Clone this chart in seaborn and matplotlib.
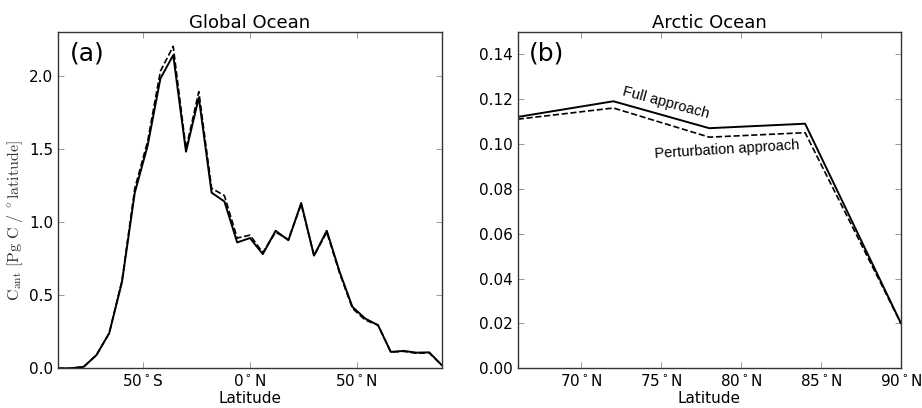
import numpy as np
import pandas as pd
import matplotlib
matplotlib.use('Agg')
import matplotlib.pyplot as plt
import seaborn as sns

# ------------------------------------------------------------
# data
# ------------------------------------------------------------
lat = [-90, -84, -78, -72, -66, -60, -54, -48, -42, -36, -30, -24, -18, -12, -6,
       0, 6, 12, 18, 24, 30, 36, 42, 48, 54, 60, 66, 72, 78, 84, 90]

cant_full = [0.0, 0.0, 0.01, 0.09, 0.24, 0.59, 1.20, 1.52, 1.98, 2.14, 1.48, 1.85,
             1.20, 1.14, 0.86, 0.89, 0.78, 0.94, 0.875, 1.13, 0.77, 0.94, 0.66,
             0.42, 0.34, 0.295, 0.112, 0.119, 0.107, 0.109, 0.02]

cant_pert = [0.0, 0.0, 0.01, 0.09, 0.24, 0.60, 1.23, 1.55, 2.03, 2.20, 1.50, 1.89,
             1.23, 1.18, 0.89, 0.91, 0.79, 0.93, 0.88, 1.12, 0.77, 0.93, 0.65,
             0.41, 0.33, 0.295, 0.111, 0.116, 0.103, 0.105, 0.02]

xticks_a = [-50, 0, 50]
xticklabels_a = [r'50$^\circ$S', r'0$^\circ$N', r'50$^\circ$N']
xticks_b = [70, 75, 80, 85, 90]
xticklabels_b = [r'70$^\circ$N', r'75$^\circ$N', r'80$^\circ$N', r'85$^\circ$N', r'90$^\circ$N']

df = pd.DataFrame({'lat': lat, 'full': cant_full, 'pert': cant_pert})

# ------------------------------------------------------------
# style
# ------------------------------------------------------------
sns.set_style('ticks')
plt.rcParams['font.family'] = ['DejaVu Sans']
plt.rcParams['text.color'] = 'black'
plt.rcParams['axes.labelcolor'] = 'black'
plt.rcParams['xtick.labelcolor'] = 'black'
plt.rcParams['ytick.labelcolor'] = 'black'
plt.rcParams['xtick.direction'] = 'in'
plt.rcParams['ytick.direction'] = 'in'
plt.rcParams['xtick.top'] = True
plt.rcParams['ytick.right'] = True

fig = plt.figure(figsize=(9.22, 4.08), dpi=100)
ax1 = fig.add_axes([58 / 922, 1 - 368.3 / 408, 384 / 922, 336.6 / 408])
ax2 = fig.add_axes([517.5 / 922, 1 - 368.3 / 408, 383.5 / 922, 336.6 / 408])

for ax in (ax1, ax2):
    sns.lineplot(data=df, x='lat', y='full', color='k', lw=1.4, ax=ax)
    sns.lineplot(data=df, x='lat', y='pert', color='k', lw=1.2, ax=ax,
                 linestyle='--')
    ax.set_xlabel('Latitude', fontsize=11, labelpad=1)
    ax.tick_params(labelsize=11, length=4, width=0.6, color='#888888')
    for s in ax.spines.values():
        s.set_linewidth(1.0)
        s.set_color('#333333')

# (a) Global Ocean
ax1.set_xlim(-90, 90)
ax1.set_ylim(0, 2.3)
ax1.set_xticks(xticks_a)
ax1.set_xticklabels(xticklabels_a)
ax1.set_yticks([0.0, 0.5, 1.0, 1.5, 2.0])
ax1.set_yticklabels(['0.0', '0.5', '1.0', '1.5', '2.0'])
ax1.set_title('Global Ocean', fontsize=13, pad=3)
ax1.set_ylabel(r'$\mathrm{C_{ant}}\ \mathrm{[Pg\ C\ /\ ^\circ latitude]}$',
               fontsize=11.5, math_fontfamily='cm', color='#333333')
ax1.yaxis.set_label_coords(-0.086, 0.44)
ax1.text(0.03, 0.97, '(a)', transform=ax1.transAxes, fontsize=18,
         ha='left', va='top')

# (b) Arctic Ocean
ax2.set_xlim(66, 90)
ax2.set_ylim(0, 0.15)
ax2.set_xticks(xticks_b)
ax2.set_xticklabels(xticklabels_b)
ax2.set_yticks([0.0, 0.02, 0.04, 0.06, 0.08, 0.10, 0.12, 0.14])
ax2.set_yticklabels(['0.00', '0.02', '0.04', '0.06', '0.08', '0.10', '0.12', '0.14'])
ax2.set_ylabel('')
ax2.set_title('Arctic Ocean', fontsize=13, pad=3)
ax2.text(0.03, 0.97, '(b)', transform=ax2.transAxes, fontsize=18,
         ha='left', va='top')

ax2.text(75.3, 0.1185, 'Full approach', family=['Liberation Sans'], fontsize=10.5,
         rotation=-15, ha='center', va='center', rotation_mode='anchor')
ax2.text(79.1, 0.0975, 'Perturbation approach', family=['Liberation Sans'],
         fontsize=10.5, rotation=3.5, ha='center', va='center',
         rotation_mode='anchor')

plt.savefig('out.png', dpi=100)
